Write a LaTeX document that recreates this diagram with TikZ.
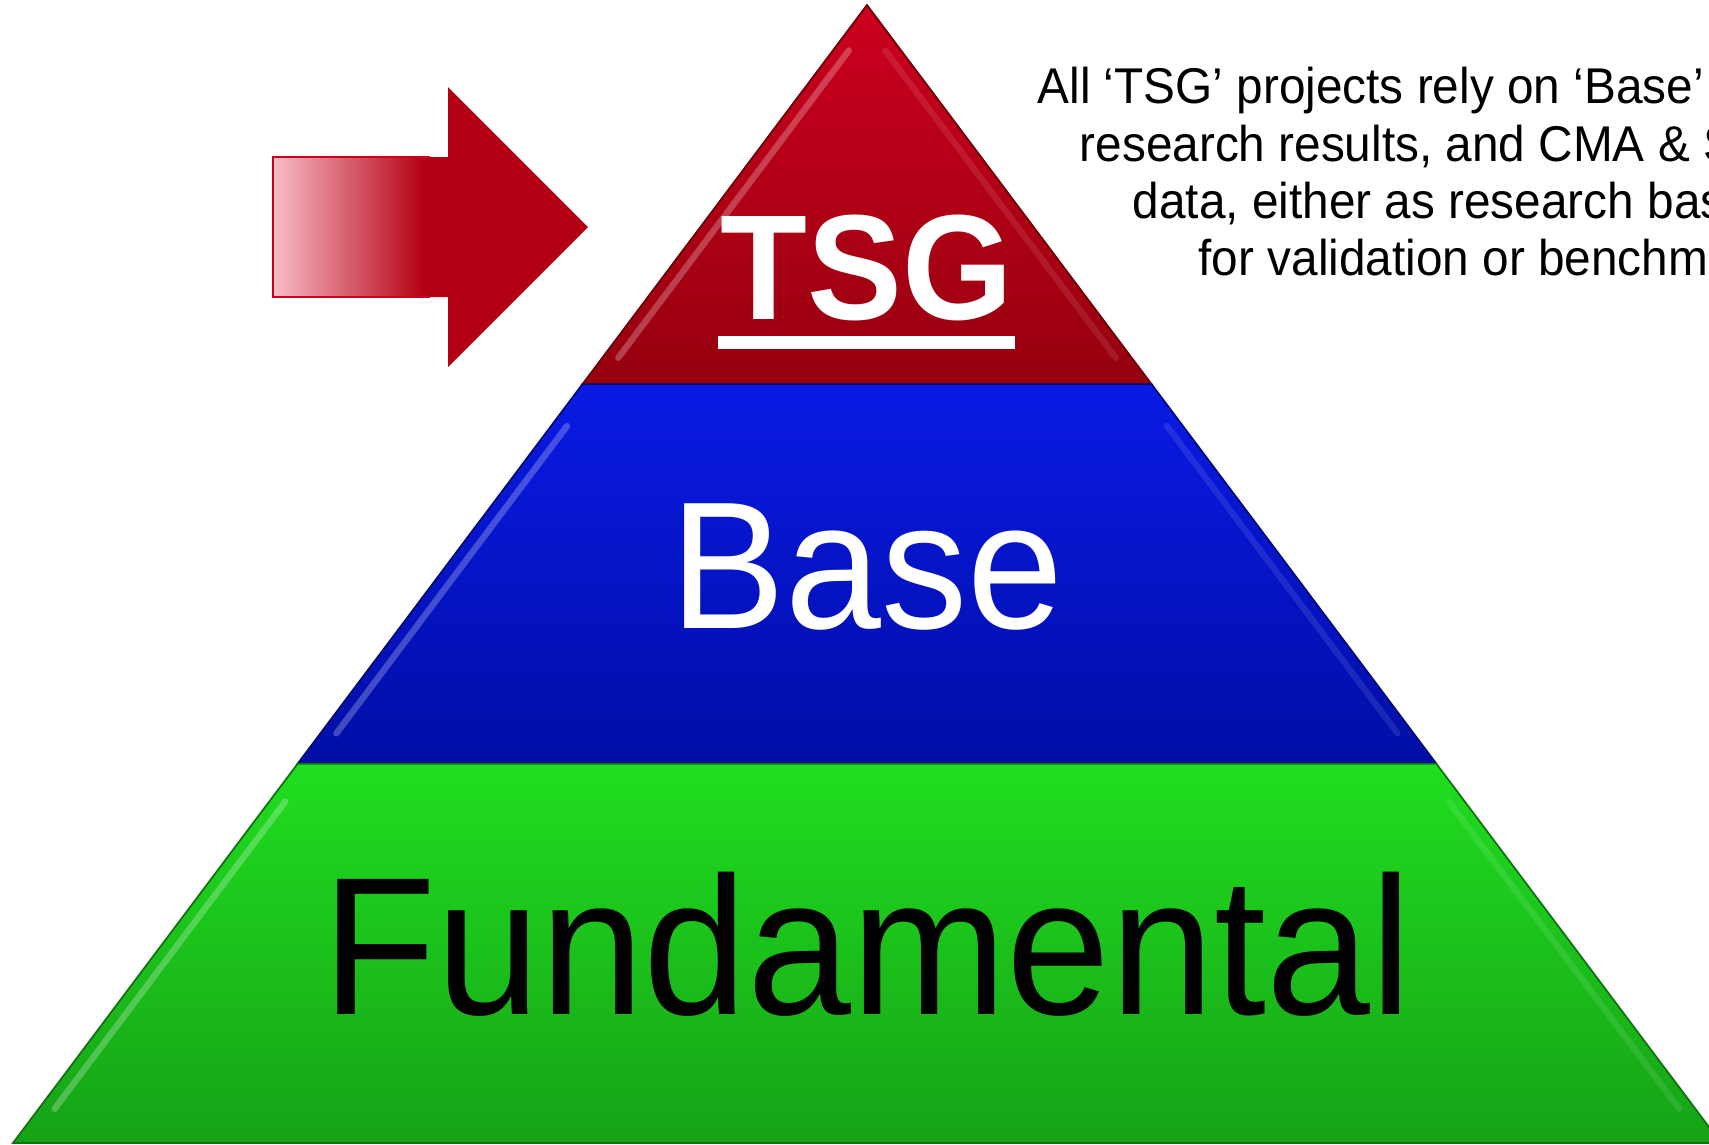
\documentclass[tikz,border=0pt]{standalone}
\usepackage{fontspec}
\setmainfont{Liberation Sans}[FakeStretch=0.95]
\usetikzlibrary{calc}
\definecolor{tsgred}{RGB}{204,0,30}
\definecolor{tsgdark}{RGB}{150,0,14}
\definecolor{baseblue}{RGB}{10,26,228}
\definecolor{basedark}{RGB}{0,14,166}
\definecolor{fundgreen}{RGB}{32,222,32}
\definecolor{funddark}{RGB}{22,162,22}
\definecolor{arrowred}{RGB}{179,0,18}
\definecolor{arrowpink}{RGB}{250,188,198}

\begin{document}
\begin{tikzpicture}[x=0.1mm,y=-0.1mm,
  glint/.style={line width=1.8pt,line cap=round,white,opacity=0.25},
  soft glint/.style={line width=1.8pt,line cap=round,white,opacity=0.1},
  note/.style={anchor=base west,inner sep=0pt,font=\fontsize{14.3}{16.3}\selectfont},
  label/.style={anchor=base,inner sep=0pt}]
\useasboundingbox (0,0) rectangle (1709,1144);
\coordinate (apex) at (867,5);
\coordinate (bl) at (13,1143);
\coordinate (br) at (1721,1143);
\coordinate (l1) at ($(apex)!0.3333!(bl)$);
\coordinate (r1) at ($(apex)!0.3333!(br)$);
\coordinate (l2) at ($(apex)!0.6667!(bl)$);
\coordinate (r2) at ($(apex)!0.6667!(br)$);

\shade[top color=tsgred,bottom color=tsgdark,draw=tsgdark!70!black,line width=0.5pt] (apex) -- (l1) -- (r1) -- cycle;
\shade[top color=baseblue,bottom color=basedark,draw=basedark!70!black,line width=0.5pt] (l1) -- (l2) -- (r2) -- (r1) -- cycle;
\shade[top color=fundgreen,bottom color=funddark,draw=funddark!70!black,line width=0.5pt] (l2) -- (bl) -- (br) -- (r2) -- cycle;
\foreach \s/\e in {0.04/0.31,0.37/0.64,0.70/0.97}{
  \draw[glint] ($(apex)!\s!(bl)+(16,0)$) -- ($(apex)!\e!(bl)+(16,0)$);
  \draw[soft glint] ($(apex)!\s!(br)+(-16,0)$) -- ($(apex)!\e!(br)+(-16,0)$);
}

\fill[arrowred] (273,157) -- (448,157) -- (448,87) -- (588,227) -- (448,367) -- (448,297) -- (273,297) -- cycle;
\shade[left color=arrowpink,right color=arrowred] (273,157) rectangle (425,297);
\draw[tsgred,line width=0.5pt] (430,157) -- (273,157) -- (273,297) -- (430,297);

\node[label,white,font=\bfseries\fontsize{42.6}{42}\selectfont] (tsg) at (867,319) {TSG};
\fill[white] (718,336) rectangle (1015,349);
\node[label,white,font=\fontsize{51.6}{50}\selectfont] (base) at (867,628) {Base};
\node[label,font=\fontsize{55.9}{55}\selectfont] (fund) at (867,1014) {Fundamental};

\node[note] (note1) at (1037,103.5) {All ‘TSG’ projects rely on ‘Base’};
\node[note] (note2) at (1079,161.3) {research results, and CMA \& S};
\node[note] (note3) at (1132,218) {data, either as research bas};
\node[note] (note4) at (1198,275.8) {for validation or benchm};
\end{tikzpicture}
\end{document}
